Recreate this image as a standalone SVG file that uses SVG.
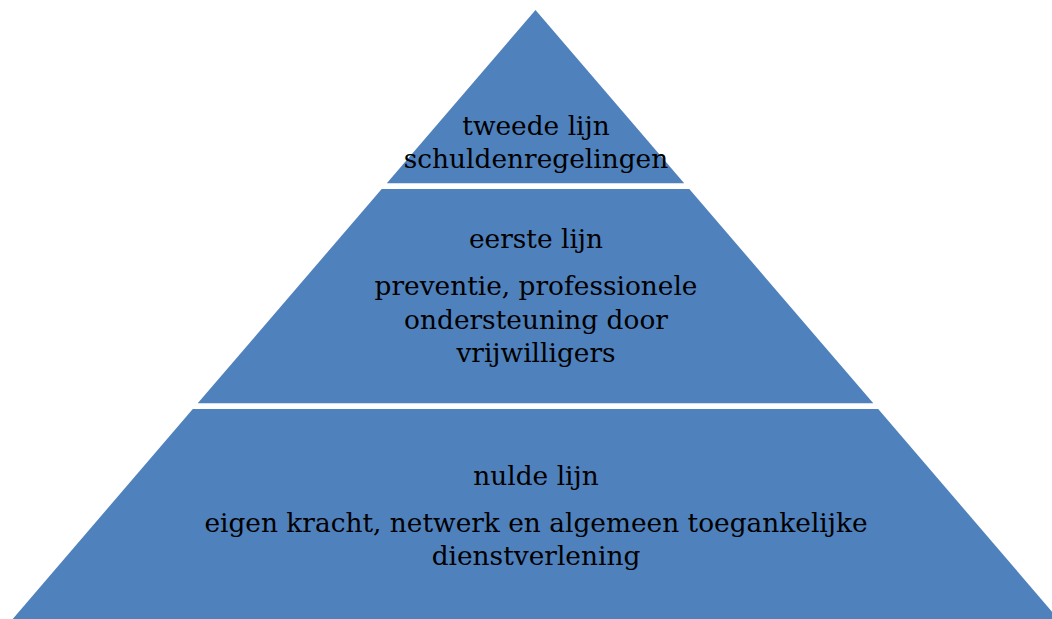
<svg xmlns="http://www.w3.org/2000/svg" width="1052" height="619" viewBox="0 0 1052 619">
<style>
.seg{fill:#4F81BD;}
.t{font-family:"DejaVu Serif","Liberation Serif",serif;font-size:26.4px;fill:#000;text-anchor:middle;}
</style>
<rect width="1052" height="619" fill="#fff"/>
<g id="tweede-lijn">
<polygon class="seg" points="535.5,10 684.2,183.3 386.8,183.3"/>
<text class="t" x="536" y="135">tweede lijn</text>
<text class="t" x="536" y="168">schuldenregelingen</text>
</g>
<g id="eerste-lijn">
<polygon class="seg" points="381.7,189 689.3,189 873.3,403.3 197.7,403.3"/>
<text class="t" x="536" y="248">eerste lijn</text>
<text class="t" x="536" y="295">preventie, professionele</text>
<text class="t" x="536" y="329">ondersteuning door</text>
<text class="t" x="536" y="362">vrijwilligers</text>
</g>
<g id="nulde-lijn">
<polygon class="seg" points="192.8,409 878.2,409 1060,621 11,621"/>
<text class="t" x="536" y="485">nulde lijn</text>
<text class="t" x="536" y="532">eigen kracht, netwerk en algemeen toegankelijke</text>
<text class="t" x="536" y="565">dienstverlening</text>
</g>
<g id="connectors"/>
</svg>
